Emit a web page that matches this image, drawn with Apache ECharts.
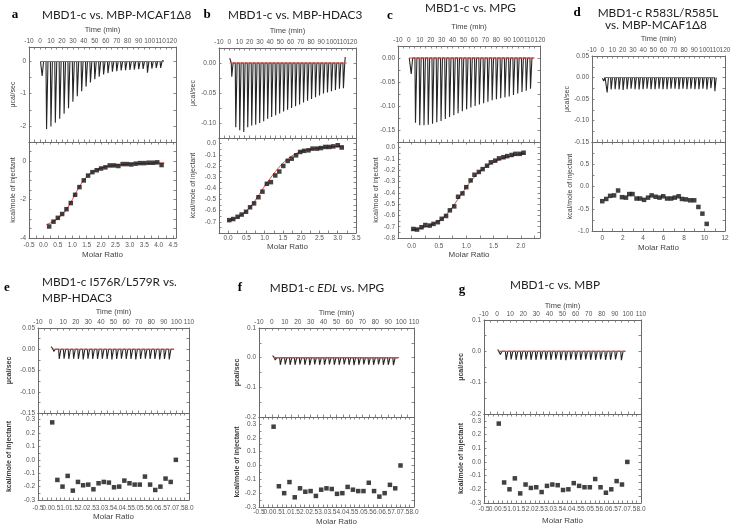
<!DOCTYPE html>
<html><head><meta charset="utf-8">
<script src="https://cdn.jsdelivr.net/npm/echarts@6/dist/echarts.min.js"></script>
<style>html,body{margin:0;padding:0;background:#fff}#c{width:732px;height:528px}</style>
</head><body><div id="c"></div>
<script>
// ---------------- DATA ----------------
// Panel a: MBD1-c vs. MBP-MCAF1Δ8
const aInjTime = [1.5,5.5,9.5,13.5,17.5,21.5,25.5,29.5,33.5,37.5,41.5,45.5,49.5,53.5,57.5,61.5,65.5,69.5,73.5,77.5,81.5,85.5,89.5,93.5,97.5,101.5,105.5,109.5];
const aInjPeak = [-0.45,-2.10,-2.02,-1.90,-1.78,-1.62,-1.45,-1.25,-1.08,-0.92,-0.78,-0.65,-0.55,-0.47,-0.40,-0.36,-0.32,-0.30,-0.28,-0.27,-0.26,-0.25,-0.24,-0.23,-0.35,-0.22,-0.20,-0.20];
const aTraceEnds = [[0.5,0],[112.5,0.04]];
const aBaseTime = [0.5,113]; const aBaseVal = [0,0];
const aRatio = [0.20,0.35,0.50,0.65,0.80,0.95,1.10,1.25,1.40,1.55,1.70,1.85,2.00,2.15,2.30,2.45,2.60,2.75,2.90,3.05,3.20,3.35,3.50,3.65,3.80,3.95,4.10];
const aHeat  = [-3.40,-3.15,-2.95,-2.75,-2.50,-2.18,-1.75,-1.35,-1.00,-0.75,-0.57,-0.47,-0.38,-0.32,-0.22,-0.22,-0.25,-0.15,-0.15,-0.17,-0.13,-0.10,-0.10,-0.08,-0.08,-0.06,-0.20];
const aFitRatio = [0.10,0.30,0.50,0.70,0.90,1.10,1.30,1.50,1.70,1.90,2.10,2.40,2.80,3.20,3.60,4.00,4.20];
const aFitHeat  = [-3.30,-3.17,-2.98,-2.70,-2.28,-1.72,-1.20,-0.82,-0.57,-0.42,-0.32,-0.23,-0.17,-0.13,-0.11,-0.09,-0.09];

// Panel b: MBD1-c vs. MBP-HDAC3
const bInjTime = [2.0,5.9,9.8,13.7,17.6,21.5,25.4,29.3,33.2,37.1,41.0,44.9,48.8,52.7,56.6,60.5,64.4,68.3,72.2,76.1,80.0,83.9,87.8,91.7,95.6,99.5,103.4,107.3,111.2];
const bInjPeak = [-0.023,-0.107,-0.112,-0.115,-0.107,-0.104,-0.103,-0.100,-0.097,-0.093,-0.090,-0.087,-0.084,-0.081,-0.078,-0.075,-0.072,-0.069,-0.066,-0.063,-0.060,-0.057,-0.054,-0.051,-0.049,-0.047,-0.045,-0.043,-0.042];
const bTraceEnds = [[0.5,0.008],[113.5,0.010]];
const bBaseTime = [0.5,115]; const bBaseVal = [0,0];
const bRatio = [0.03,0.14,0.26,0.37,0.49,0.60,0.71,0.83,0.94,1.06,1.17,1.29,1.40,1.51,1.63,1.74,1.86,1.97,2.08,2.20,2.31,2.43,2.54,2.66,2.77,2.88,3.00,3.11];
const bHeat  = [-0.685,-0.675,-0.655,-0.635,-0.61,-0.57,-0.535,-0.48,-0.43,-0.36,-0.345,-0.285,-0.25,-0.20,-0.155,-0.135,-0.105,-0.075,-0.065,-0.06,-0.045,-0.045,-0.04,-0.03,-0.03,-0.025,-0.015,-0.035];
const bFitRatio = [0.0,0.2,0.4,0.6,0.8,1.0,1.2,1.4,1.6,1.8,2.0,2.3,2.6,3.0,3.15];
const bFitHeat  = [-0.69,-0.67,-0.63,-0.57,-0.48,-0.38,-0.29,-0.21,-0.145,-0.10,-0.07,-0.05,-0.035,-0.025,-0.022];

// Panel c: MBD1-c vs. MPG
const cInjTime = [1.6,5.5,9.4,13.3,17.2,21.1,25.0,28.9,32.8,36.7,40.6,44.5,48.4,52.3,56.2,60.1,64.0,67.9,71.8,75.7,79.6,83.5,87.4,91.3,95.2,99.1,103.0,106.9,110.8];
const cInjPeak = [-0.033,-0.135,-0.140,-0.140,-0.139,-0.137,-0.134,-0.131,-0.127,-0.123,-0.119,-0.115,-0.111,-0.107,-0.103,-0.100,-0.097,-0.094,-0.091,-0.088,-0.086,-0.084,-0.082,-0.080,-0.077,-0.074,-0.071,-0.068,-0.064];
const cTraceEnds = [[0.3,0],[114,0]];
const cBaseTime = [0,115]; const cBaseVal = [0,0];
const cRatio = [0.03,0.10,0.18,0.25,0.33,0.40,0.48,0.55,0.63,0.70,0.78,0.85,0.93,1.00,1.08,1.15,1.23,1.30,1.38,1.45,1.53,1.60,1.68,1.75,1.83,1.90,1.98,2.05];
const cHeat  = [-0.72,-0.725,-0.705,-0.685,-0.69,-0.675,-0.66,-0.63,-0.605,-0.555,-0.52,-0.435,-0.405,-0.35,-0.29,-0.24,-0.215,-0.19,-0.16,-0.13,-0.115,-0.095,-0.085,-0.075,-0.065,-0.055,-0.055,-0.045];
const cFitRatio = [0.0,0.2,0.4,0.55,0.7,0.85,1.0,1.15,1.3,1.5,1.7,1.9,2.07];
const cFitHeat  = [-0.73,-0.71,-0.675,-0.63,-0.555,-0.455,-0.35,-0.26,-0.19,-0.13,-0.09,-0.065,-0.05];

// Panel d: MBD1-c R583L/R585L vs. MBP-MCAF1Δ8
const dInjTime = [1.0,4.3,8.2,12.1,16.0,19.9,23.8,27.7,31.6,35.5,39.4,43.3,47.2,51.1,55.0,58.9,62.8,66.7,70.6,74.5,78.4,82.3,86.2,90.1,94.0,97.9,101.8,105.7,109.6];
const dInjPeak = [-0.008,-0.035,-0.028,-0.027,-0.028,-0.029,-0.027,-0.026,-0.027,-0.028,-0.027,-0.026,-0.027,-0.027,-0.026,-0.027,-0.027,-0.026,-0.026,-0.027,-0.026,-0.027,-0.026,-0.027,-0.027,-0.026,-0.028,-0.025,-0.032];
const dTraceEnds = [[0.2,-0.002],[111,0]];
const dBaseTime = [2,110]; const dBaseVal = [0,0];
const dRatio = [0.00,0.39,0.77,1.16,1.55,1.93,2.32,2.64,2.96,3.35,3.70,4.09,4.48,4.83,5.22,5.60,5.96,6.34,6.73,7.09,7.47,7.79,8.18,8.60,8.99,9.40,9.79,10.21];
const dHeat  = [-0.33,-0.28,-0.21,-0.20,-0.09,-0.24,-0.25,-0.17,-0.17,-0.27,-0.27,-0.30,-0.25,-0.20,-0.23,-0.25,-0.22,-0.27,-0.27,-0.25,-0.22,-0.28,-0.29,-0.31,-0.31,-0.46,-0.61,-0.84];

// Panel e: MBD1-c I576R/L579R vs. MBP-HDAC3
const eInjTime = [2.0,6.4,10.2,14.0,17.8,21.6,25.4,29.2,33.0,36.8,40.6,44.4,48.2,52.0,55.8,59.6,63.4,67.2,71.0,74.8,78.6,82.4,86.2,90.0,93.8];
const eInjPeak = [-0.005,-0.023,-0.022,-0.023,-0.022,-0.023,-0.024,-0.022,-0.023,-0.023,-0.022,-0.023,-0.024,-0.023,-0.022,-0.023,-0.023,-0.024,-0.023,-0.022,-0.023,-0.023,-0.024,-0.023,-0.024];
const eTraceEnds = [[0.5,0.006],[98,0]];
const eBaseTime = [1,98]; const eBaseVal = [0,0];

// Panel f: MBD1-c EDL vs. MPG
const fInjTime = [2.0,6.0,9.8,13.6,17.4,21.2,25.0,28.8,32.6,36.4,40.2,44.0,47.8,51.6,55.4,59.2,63.0,66.8,70.6,74.4,78.2,82.0,85.8,89.6,93.6];
const fInjPeak = [-0.008,-0.024,-0.023,-0.024,-0.024,-0.023,-0.024,-0.025,-0.023,-0.024,-0.024,-0.023,-0.024,-0.024,-0.023,-0.024,-0.025,-0.024,-0.023,-0.024,-0.024,-0.023,-0.024,-0.024,-0.025];
const fTraceEnds = [[0.5,0.007],[98,0]];
const fBaseTime = [1,98]; const fBaseVal = [0,0];

// Panel g: MBD1-c vs. MBP
const gInjTime = [2.0,6.4,10.2,14.0,17.8,21.6,25.4,29.2,33.0,36.8,40.6,44.4,48.2,52.0,55.8,59.6,63.4,67.2,71.0,74.8,78.6,82.4,86.2,90.0,94.5];
const gInjPeak = [-0.010,-0.027,-0.026,-0.027,-0.027,-0.026,-0.027,-0.027,-0.026,-0.027,-0.027,-0.026,-0.027,-0.028,-0.026,-0.027,-0.027,-0.026,-0.027,-0.027,-0.026,-0.027,-0.027,-0.026,-0.028];
const gTraceEnds = [[0.5,0.006],[98,0]];
const gBaseTime = [1,98]; const gBaseVal = [0,0];

// Control isotherm shared by e, f, g
const ctrlRatio = [0.30,0.59,0.88,1.17,1.46,1.75,2.04,2.33,2.62,2.91,3.20,3.49,3.78,4.07,4.36,4.65,4.94,5.23,5.52,5.81,6.10,6.39,6.68,6.97,7.26];
const ctrlHeat  = [0.28,-0.15,-0.20,-0.12,-0.23,-0.165,-0.19,-0.185,-0.22,-0.175,-0.165,-0.17,-0.205,-0.20,-0.155,-0.175,-0.185,-0.185,-0.125,-0.185,-0.225,-0.20,-0.14,-0.165,0.0];

// Texts
const timeName = 'Time (min)';
const ratioName = 'Molar Ratio';
const powerName = 'μcal/sec';
const heatName = 'kcal/mole of injectant';

// ---------------- LAYOUT ----------------
// axis arrays: [min, max, tickStep, labelStep, decimals]
const panels = [
 {id:'a', left:29, right:176, top:47, mid:142, bottom:238, time:[-10,124,5,10,0], topY:[-2.5,0.45,0.5,1,0], botY:[-4,1,0.5,2,0], ratio:[-0.5,4.6,0.25,0.5,1], timeGap:13, ratioGap:13, ratioMargin:4, yGap:10, topName:true, bold:false, botMin:true,
  inj:[aInjTime,aInjPeak,aTraceEnds], base:[aBaseTime,aBaseVal], pts:[aRatio,aHeat], fit:[aFitRatio,aFitHeat]},
 {id:'b', left:219, right:356, top:48, mid:138, bottom:233, time:[-10,124,5,10,0], topY:[-0.125,0.025,0.025,0.05,2], botY:[-0.8,0.05,0.05,0.1,1], ratio:[-0.25,3.5,0.25,0.5,1], timeGap:13, ratioGap:10, ratioMargin:2, yGap:22, topName:true, bold:false, botMin:false,
  inj:[bInjTime,bInjPeak,bTraceEnds], base:[bBaseTime,bBaseVal], pts:[bRatio,bHeat], fit:[bFitRatio,bFitHeat]},
 {id:'c', left:398, right:540, top:46, mid:142, bottom:238, time:[-10,120,5,10,0], topY:[-0.175,0.025,0.025,0.05,2], botY:[-0.8,0.05,0.05,0.1,1], ratio:[-0.25,2.35,0.25,0.5,1], timeGap:15, ratioGap:11, ratioMargin:5, yGap:18, topName:false, bold:false, botMin:true,
  inj:[cInjTime,cInjPeak,cTraceEnds], base:[cBaseTime,cBaseVal], pts:[cRatio,cHeat], fit:[cFitRatio,cFitHeat]},
 {id:'d', left:592, right:725, top:56, mid:142, bottom:231, time:[-10,120,5,10,0], topY:[-0.15,0.05,0.025,0.05,2], botY:[-1,1,0.25,0.5,1], ratio:[-1,12,1,2,0], timeGap:13, ratioGap:13, ratioMargin:3.5, yGap:15, topName:true, bold:false, botMin:true,
  inj:[dInjTime,dInjPeak,dTraceEnds], base:[dBaseTime,dBaseVal], pts:[dRatio,dHeat], fit:null},
 {id:'e', left:38, right:189, top:328, mid:413, bottom:500, time:[-10,110,5,10,0], topY:[-0.15,0.05,0.025,0.05,2], botY:[-0.3,0.35,0.05,0.1,1], ratio:[-0.5,8,0.25,0.5,1], timeGap:12, ratioGap:13, ratioMargin:4.5, yGap:25, topName:true, bold:true, botMin:true,
  inj:[eInjTime,eInjPeak,eTraceEnds], base:[eBaseTime,eBaseVal], pts:[ctrlRatio,ctrlHeat], fit:null},
 {id:'f', left:259, right:414, top:328, mid:417, bottom:507, time:[-10,110,5,10,0], topY:[-0.2,0.1,0.05,0.1,1], botY:[-0.3,0.35,0.05,0.1,1], ratio:[-0.5,8,0.25,0.5,1], timeGap:11, ratioGap:11, ratioMargin:2, yGap:16, topName:true, bold:true, botMin:true,
  inj:[fInjTime,fInjPeak,fTraceEnds], base:[fBaseTime,fBaseVal], pts:[ctrlRatio,ctrlHeat], fit:null},
 {id:'g', left:484, right:641, top:320, mid:414, bottom:503, time:[-10,110,5,10,0], topY:[-0.2,0.1,0.05,0.1,1], botY:[-0.3,0.35,0.05,0.1,1], ratio:[-0.5,8,0.25,0.5,1], timeGap:9, ratioGap:14, ratioMargin:2.5, yGap:19, topName:true, bold:true, botMin:true,
  inj:[gInjTime,gInjPeak,gTraceEnds], base:[gBaseTime,gBaseVal], pts:[ctrlRatio,ctrlHeat], fit:null}
];

const SANS = '"Liberation Sans", Arial, sans-serif';
const TITLEF = 'Lato, "Open Sans", sans-serif';
const SERIF = '"Liberation Serif", "Times New Roman", serif';
const TITLE_SIZE = 11.8;
const AXC = '#6b6b6b', LABC = '#555', TRACE = '#262626', RED = '#e4463f';

function fmt(step, dec) {
  return function (v) {
    const r = v / step;
    if (Math.abs(r - Math.round(r)) > 1e-6) return '';
    if (Math.abs(v) < 1e-9) v = 0;
    return v.toFixed(dec);
  };
}
function zip(xs, ys) { return xs.map((x, i) => [x, ys[i]]); }
function trace(times, peaks, ends) {
  const pts = [ends[0]];
  for (let i = 0; i < times.length; i++) {
    pts.push([times[i], 0], [times[i] + 0.5, peaks[i]], [times[i] + 1.8, 0]);
  }
  pts.push(ends[1]);
  return pts;
}

const grids = [], xAxes = [], yAxes = [], series = [];
function axis(gi, position, cfg, labels, extra) {
  const a = {
    type: 'value', gridIndex: gi, position: position,
    min: cfg[0], max: cfg[1], interval: cfg[2],
    splitLine: {show: false},
    axisLine: {show: true, onZero: false, lineStyle: {color: AXC, width: 1}},
    axisTick: {show: true, inside: true, length: 2.5, lineStyle: {color: AXC, width: 0.8}},
    axisLabel: {show: labels, fontSize: 6.5, color: LABC, fontFamily: SANS, margin: 3, formatter: fmt(cfg[3], cfg[4])}
  };
  if (extra) {
    if (extra.labelExtra) Object.assign(a.axisLabel, extra.labelExtra);
    delete extra.labelExtra;
    Object.assign(a, extra);
  }
  return a;
}
function nameStyle(p, size) {
  return {fontSize: size, color: '#3a3a3a', fontFamily: SANS, fontWeight: p.bold ? 'bold' : 'normal'};
}

panels.forEach(p => {
  const w = p.right - p.left;
  const gT = grids.length;
  grids.push({left: p.left, top: p.top, width: w, height: p.mid - p.top, outerBoundsMode: 'none', containLabel: false});
  const gB = grids.length;
  grids.push({left: p.left, top: p.mid, width: w, height: p.bottom - p.mid, outerBoundsMode: 'none', containLabel: false});

  const xT = xAxes.length;
  xAxes.push(axis(gT, 'top', p.time, true, {name: timeName, nameLocation: 'middle', nameGap: p.timeGap,
    nameTextStyle: {fontSize: 7.5, color: '#444', fontFamily: SANS}, labelExtra: {margin: 2}}));
  xAxes.push(axis(gT, 'bottom', p.time, false));
  const xB = xAxes.length;
  xAxes.push(axis(gB, 'bottom', p.ratio, true, {name: ratioName, nameLocation: 'middle', nameGap: p.ratioGap,
    nameTextStyle: {fontSize: 8, color: '#444', fontFamily: SANS}, labelExtra: {margin: p.ratioMargin}}));
  xAxes.push(axis(gB, 'top', p.ratio, false));

  const yT = yAxes.length;
  yAxes.push(axis(gT, 'left', p.topY, true, p.topName ? {name: powerName, nameLocation: 'middle', nameGap: p.yGap,
    nameRotate: 90, nameTextStyle: nameStyle(p, 7)} : {}));
  yAxes.push(axis(gT, 'right', p.topY, false));
  const yB = yAxes.length;
  yAxes.push(axis(gB, 'left', p.botY, true, {name: heatName, nameLocation: 'middle', nameGap: p.yGap,
    nameRotate: 90, nameTextStyle: nameStyle(p, 7), labelExtra: {showMaxLabel: false, showMinLabel: p.botMin}}));
  yAxes.push(axis(gB, 'right', p.botY, false));

  series.push({type: 'line', xAxisIndex: xT, yAxisIndex: yT, data: trace(p.inj[0], p.inj[1], p.inj[2]),
    symbol: 'none', lineStyle: {color: TRACE, width: 1.1}, z: 2, silent: true});
  series.push({type: 'line', xAxisIndex: xT, yAxisIndex: yT, data: zip(p.base[0], p.base[1]),
    symbol: 'none', lineStyle: {color: RED, width: 1.2}, z: 3, silent: true});
  if (p.fit) {
    series.push({type: 'line', xAxisIndex: xB, yAxisIndex: yB, data: zip(p.fit[0], p.fit[1]), smooth: 0.4,
      symbol: 'none', lineStyle: {color: RED, width: 1}, z: 2, silent: true});
  }
  series.push({type: 'scatter', xAxisIndex: xB, yAxisIndex: yB, data: zip(p.pts[0], p.pts[1]),
    symbol: 'rect', symbolSize: 4.5, itemStyle: {color: '#111'}, z: 3, silent: true});
});

function txt(x, y, text, opt) {
  return {type: 'text', x: x, y: y, silent: true, style: Object.assign({text: text, fill: '#1e1e1e',
    fontSize: TITLE_SIZE, fontFamily: TITLEF, align: 'left', verticalAlign: 'middle'}, opt || {})};
}
const letter = {fontFamily: SERIF, fontWeight: 'bold', fontSize: 13, fill: '#000', align: 'center'};
const graphic = [
  txt(15, 15, 'a', letter), txt(42, 15, 'MBD1-c vs. MBP-MCAF1Δ8'),
  txt(207, 15, 'b', letter), txt(228, 15, 'MBD1-c vs. MBP-HDAC3'),
  txt(390, 16, 'c', letter), txt(425, 8, 'MBD1-c vs. MPG'),
  txt(577, 13, 'd', letter), txt(658, 13, 'MBD1-c R583L/R585L', {align: 'center'}), txt(656, 25, 'vs. MBP-MCAF1Δ8', {align: 'center'}),
  txt(7, 288, 'e', letter), txt(42, 282, 'MBD1-c I576R/L579R vs.'), txt(42, 298, 'MBP-HDAC3'),
  txt(240, 288, 'f', letter),
  {type: 'text', x: 327, y: 288, silent: true, style: {text: '{n|MBD1-c }{i|EDL}{n| vs. MPG}', align: 'center', verticalAlign: 'middle',
    rich: {n: {fontSize: TITLE_SIZE, fontFamily: TITLEF, fill: '#1e1e1e'}, i: {fontSize: TITLE_SIZE, fontFamily: TITLEF, fontStyle: 'italic', fill: '#1e1e1e'}}}},
  txt(462, 290, 'g', letter), txt(555, 285, 'MBD1-c vs. MBP', {align: 'center'})
];

const chart = echarts.init(document.getElementById('c'), null, {renderer: 'canvas'});
chart.setOption({
  animation: false,
  backgroundColor: '#fff',
  grid: grids, xAxis: xAxes, yAxis: yAxes, series: series, graphic: graphic
});
</script></body></html>
